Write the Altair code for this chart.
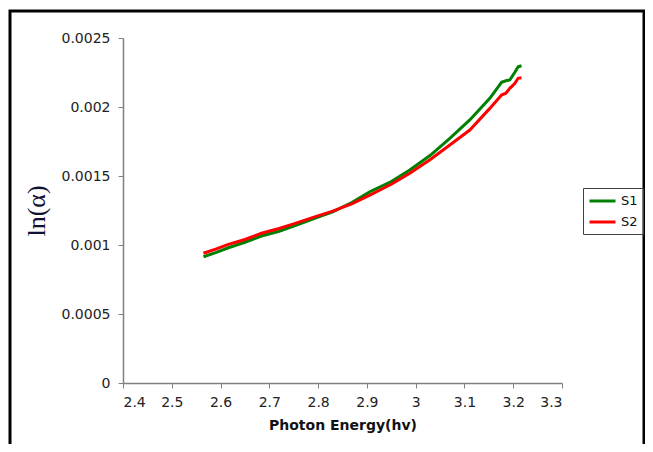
import altair as alt
import pandas as pd

# S1 (green)
s1_x = [2.565, 2.59, 2.616, 2.65, 2.684, 2.72, 2.753, 2.79, 2.83, 2.87, 2.906, 2.95,
        2.988, 3.03, 3.07, 3.111, 3.152, 3.17, 3.176, 3.185, 3.193, 3.203, 3.21, 3.217]
s1_y = [0.000915, 0.000945, 0.00098, 0.00102, 0.001065, 0.0011, 0.00114, 0.00119,
        0.00124, 0.00131, 0.001386, 0.00146, 0.001543, 0.00165, 0.001773, 0.001906,
        0.002063, 0.00215, 0.002179, 0.00219, 0.002196, 0.00225, 0.002292, 0.002299]
# S2 (red)
s2_x = [2.565, 2.59, 2.616, 2.65, 2.684, 2.72, 2.753, 2.79, 2.83, 2.87, 2.906, 2.95,
        2.988, 3.03, 3.07, 3.111, 3.152, 3.176, 3.185, 3.193, 3.203, 3.21, 3.217]
s2_y = [0.00094, 0.00097, 0.001005, 0.00104, 0.001085, 0.00112, 0.001157, 0.0012,
        0.001245, 0.0013, 0.001362, 0.00144, 0.00152, 0.00162, 0.001725, 0.001833,
        0.00199, 0.002087, 0.0021, 0.002135, 0.00217, 0.002208, 0.002212]

series = ["S1", "S2"]
colors = ["#008000", "#ff0000"]
x_ticks = [2.4, 2.5, 2.6, 2.7, 2.8, 2.9, 3.0, 3.1, 3.2, 3.3]
y_ticks = [0, 0.0005, 0.001, 0.0015, 0.002, 0.0025]

rows = []
for i, (x, y) in enumerate(zip(s1_x, s1_y)):
    rows.append({"x": x, "y": y, "s": "S1", "o": i})
for i, (x, y) in enumerate(zip(s2_x, s2_y)):
    rows.append({"x": x, "y": y, "s": "S2", "o": i})
df = pd.DataFrame(rows)

W, H = 439, 345

frame = alt.Chart(alt.Data(values=[{"a": 1}])).mark_rect(
    fill=None, stroke="black", strokeWidth=3, clip=False
).encode(
    x=alt.value(-113), x2=alt.value(521), y=alt.value(-27), y2=alt.value(600)
)

lines = alt.Chart(df).mark_line(strokeWidth=3).encode(
    x=alt.X("x:Q", scale=alt.Scale(domain=[2.4, 3.3], nice=False, zero=False),
            axis=alt.Axis(values=x_ticks, format="~g", title="Photon Energy(hv)",
                          grid=False, tickSize=5, labelPadding=7,
                          titleFont="DejaVu Sans", titleFontSize=14, titleFontWeight="bold",
                          titleColor="#111111", titlePadding=9)),
    y=alt.Y("y:Q", scale=alt.Scale(domain=[0, 0.0025], nice=False),
            axis=alt.Axis(values=y_ticks, format="~g", title="ln(α)",
                          grid=False, tickSize=5, labelPadding=8,
                          titleFont="Liberation Serif", titleFontSize=26,
                          titleFontWeight="normal", titleColor="#111133",
                          titlePadding=12)),
    color=alt.Color("s:N", scale=alt.Scale(domain=series, range=colors),
                    legend=alt.Legend(title=None, orient="none", legendX=460, legendY=150,
                                      symbolType="M-1,0H3", symbolSize=169,
                                      symbolStrokeWidth=3, labelFontSize=13,
                                      labelFont="DejaVu Sans", labelColor="#111111",
                                      strokeColor="#404040", padding=5,
                                      rowPadding=6, labelOffset=17)),
    order="o:Q",
)

chart = alt.layer(frame, lines).properties(
    width=W, height=H,
    autosize=alt.AutoSizeParams(type="none"),
    padding={"left": 115, "top": 30, "right": 83, "bottom": 61},
    background="white",
).configure_view(stroke=None).configure_axis(
    domainColor="#808080", tickColor="#808080", labelFont="DejaVu Sans",
    labelFontSize=14, labelColor="#222222", domainWidth=1.5,
)

chart.save("out.html", embed_options={"renderer": "svg", "actions": False})
